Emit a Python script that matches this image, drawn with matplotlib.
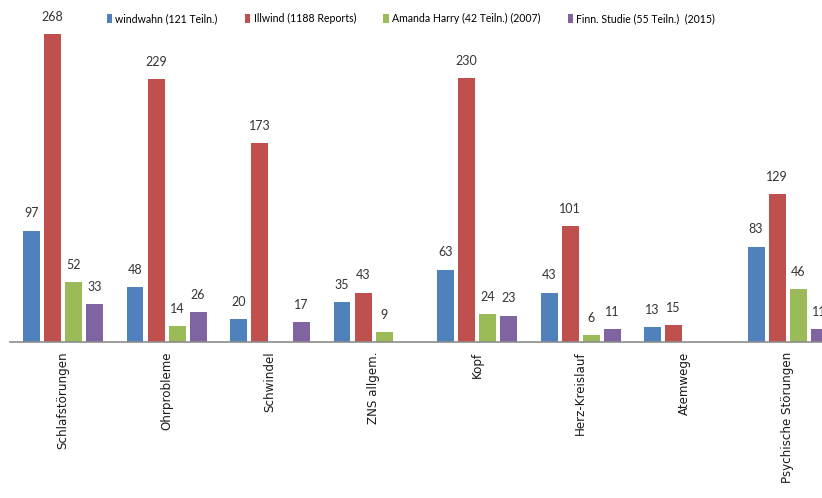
import matplotlib.pyplot as plt
import numpy as np

categories = ["Schlafstörungen", "Ohrprobleme", "Schwindel", "ZNS allgem.",
              "Kopf", "Herz-Kreislauf", "Atemwege", "Psychische Störungen"]
series_names = ["windwahn (121 Teiln.)", "Illwind (1188 Reports)",
                "Amanda Harry (42 Teiln.) (2007)", "Finn. Studie (55 Teiln.)  (2015)"]
windwahn = [97, 48, 20, 35, 63, 43, 13, 83]
illwind = [268, 229, 173, 43, 230, 101, 15, 129]
harry = [52, 14, None, 9, 24, 6, None, 46]
finn = [33, 26, 17, None, 23, 11, None, 11]

colors = ["#4F81BD", "#C0504D", "#9BBB59", "#8064A2"]
label_font = ["Lato", "DejaVu Sans"]

fig = plt.figure(figsize=(8.22, 4.98), dpi=100)
ax = fig.add_axes([0.0122, 0.3133, 0.9878, 0.6867])

x = np.arange(len(categories))
step = 0.203
width = 0.164
handles = []
for k, (vals, col) in enumerate(zip([windwahn, illwind, harry, finn], colors)):
    xs = [xi + (k - 1.5) * step for xi, v in zip(x, vals) if v is not None]
    vs = [v for v in vals if v is not None]
    bars = ax.bar(xs, vs, width=width, color=col, label=series_names[k])
    handles.append(bars)
    for xi, v in zip(xs, vs):
        ax.annotate(str(v), (xi, v), xytext=(0, 8), textcoords="offset points",
                    ha="center", va="bottom", fontsize=9, color="#333333",
                    family=label_font, annotation_clip=False)

ax.set_xlim(-0.512, 7.333)
ax.set_ylim(0, 297.6)
ax.set_xticks(x)
ax.set_xticklabels(categories, rotation=90, fontsize=8.6, color="#1a1a1a",
                   family="DejaVu Sans")
ax.tick_params(axis="x", length=0, pad=7)
ax.set_yticks([])
for s in ["top", "right", "left"]:
    ax.spines[s].set_visible(False)
ax.spines["bottom"].set_color("#8c8c8c")
ax.spines["bottom"].set_linewidth(1.2)

fig.legend(handles=handles, loc="center", bbox_to_anchor=(0.5, 0.963), ncol=4,
           frameon=False, handlelength=0.5, handleheight=0.9,
           handletextpad=0.3, columnspacing=2.6,
           prop={"family": label_font, "size": 7.6})

fig.savefig("out.png", dpi=100)
